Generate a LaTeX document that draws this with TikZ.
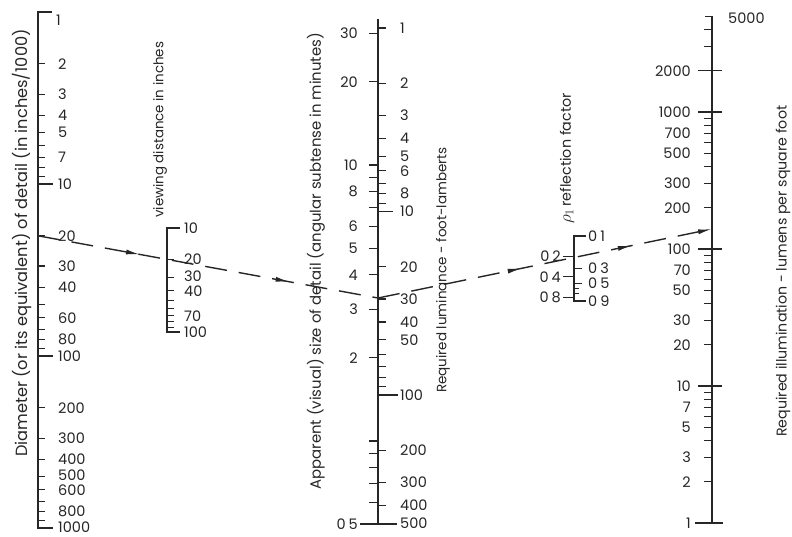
\documentclass[tikz,border=0pt]{standalone}
\usepackage{fontspec}
\setmainfont{Poppins}
\usetikzlibrary{decorations.markings,arrows.meta}
\newcommand{\fsz}[1]{\fontsize{#1}{#1}\selectfont}
\begin{document}
\begin{tikzpicture}[x=1pt,y=-1pt,
  axis/.style={line width=1.3pt, black!85},
  tk/.style={line width=1.1pt, black!85},
  num/.style={font=\fsz{14.5}, text=black!85, inner sep=0pt},
  ttl/.style={text=black!85, inner sep=0pt, rotate=90, anchor=west},
  guide/.style={line width=1.4pt, black!85, dash pattern=on 22pt off 12pt},
  gtip/.tip={Latex[length=14pt,width=5pt]}
]
\useasboundingbox (0,0) rectangle (792,537);

% ---------- Axis 1: diameter of detail ----------
\draw[axis] (52,12) -- (38,12) -- (38,528) -- (53,528);
\foreach \v in {2,...,9,20,30,...,90,200,300,...,900}
  \draw[tk] (38,{12+172*log10(\v)}) -- ++(6.5,0);
\draw[tk] (38,184) -- ++(15,0);
\draw[tk] (38,356) -- ++(15,0);
\node[num,anchor=west] (a1) at (56,20) {1};
\foreach \v in {2,3,4,5,7,10,20,30,40,60,80,100,200,300,400}
  \node[num,anchor=west] (a\v) at (58,{12+172*log10(\v)}) {\v};
\node[num,anchor=west] (a500) at (58,475) {500};
\node[num,anchor=west] (a600) at (58,490.5) {600};
\node[num,anchor=west] (a800) at (58,511) {800};
\node[num,anchor=west] (a1000) at (58,527) {1000};

% ---------- Axis 2: viewing distance ----------
\draw[axis] (180,228) -- (167,228) -- (167,332) -- (180,332);
\foreach \v in {20,30,...,90}
  \draw[tk] (167,{228+104*log10(\v/10)}) -- ++(7,0);
\foreach \v in {10,20,70,100}
  \node[num,anchor=west] (b\v) at (184,{228+104*log10(\v/10)}) {\v};
\node[num,anchor=west] (b30) at (184,276.5) {30};
\node[num,anchor=west] (b40) at (184,291.5) {40};

% ---------- Axis 3: apparent size / luminance ----------
\draw[axis] (378,19) -- (378,525);
\foreach \v in {1,...,9,20,30,...,90,200,300,400}
  \draw[tk] (378,{28+183.5*log10(\v)}) -- ++(8,0);
\draw[tk] (378,211.5) -- ++(15,0);
\draw[tk] (378,395) -- ++(20,0);
\draw[tk] (360,524) -- (397,524);
\foreach \v in {30,20,10,9,8,7,6,5,4,3,2,1,0.9,0.8,0.7,0.6}
  \draw[tk] (378,{441-276*log10(\v)}) -- ++(-9,0);
\foreach \v in {30,20,10,8,6,5,4,3,2}
  \node[num,anchor=east] (c\v) at (358,{441-276*log10(\v)}) {\v};
\node[num,anchor=east] (c05) at (358,524) {0\kern3pt5};
\foreach \v in {1,2,3,4,5,6,8,10,20,30,40,50,100,200,300,400,500}
  \node[num,anchor=west] (l\v) at (400,{28+183.5*log10(\v)}) {\v};

% ---------- Axis 4: reflection factor ----------
\draw[axis] (586,236) -- (574,236) -- (574,301) -- (586,301);
\foreach \v in {3,5}
  \draw[tk] (574,{236+68*log10(\v)}) -- ++(8,0);
\foreach \v in {6,7}
  \draw[tk] (574,{236+68*log10(\v)}) -- ++(5,0);
\foreach \v in {2,4,8}
  \draw[tk] (574,{236+68*log10(\v)}) -- ++(-11,0);
\foreach \v in {1,3,5,9}
  \node[num,anchor=west] (r\v) at (588,{236+68*log10(\v)}) {0\kern3pt\v};
\foreach \v in {2,4,8}
  \node[num,anchor=east] (r\v) at (561,{236+68*log10(\v)}) {0\kern3pt\v};

% ---------- Axis 5: illumination ----------
\draw[axis] (705,16.2) -- (712,16.2) -- (712,523);
\foreach \v in {2,...,9,20,30,...,90,200,300,...,900,3000,4000}
  \draw[tk] (712,{523-137*log10(\v)}) -- ++(-8,0);
\foreach \v in {10,100,1000,2000}
  \draw[tk] (698,{523-137*log10(\v)}) -- ++(24,0);
\draw[tk] (695,523) -- (723,523);
\foreach \v in {1,2,3,5,7,10,20,30,50,70,100,200,300,500,700,1000,2000}
  \node[num,anchor=east] (e\v) at (691,{523-137*log10(\v)}) {\v};
\node[num,anchor=west] (e5000) at (728,18) {5000};

% ---------- Titles ----------
\node[ttl,font=\fsz{16.2}] (tDia) at (22,457) {Diameter (or its equivalent) of detail (in inches/1000)};
\node[ttl,font=\fsz{13.4}] (tView) at (160,218) {viewing distance in inches};
\node[ttl,font=\fsz{14.9}] (tApp) at (316,490) {Apparent (visual) size of detail (angular subtense in minutes)};
\node[ttl,font=\fsz{13.5}] (tLum) at (443,393) {Required luminance - foot-lamberts};
\node[ttl,font=\fsz{14.3}] (tRho) at (567,224) {{\fsz{18}$\rho_1$}\kern2pt reflection factor};
\node[ttl,font=\fsz{14.2}] (tIll) at (783,437) {Required illumination - lumens per square foot};

% ---------- Construction line ----------
\coordinate (P1) at (38,235.8);
\coordinate (P2) at (378,298);
\coordinate (P3) at (712,229);
\draw[guide, postaction={decorate}, decoration={markings,
   mark=at position 0.30 with {\arrow{gtip}},
   mark=at position 0.74 with {\arrow{gtip}}}] (P1) -- (P2);
\draw[guide, -{gtip}, postaction={decorate}, decoration={markings,
   mark=at position 0.43 with {\arrow{gtip}},
   mark=at position 0.76 with {\arrow{gtip}}}] (P2) -- (P3);
\end{tikzpicture}
\end{document}
